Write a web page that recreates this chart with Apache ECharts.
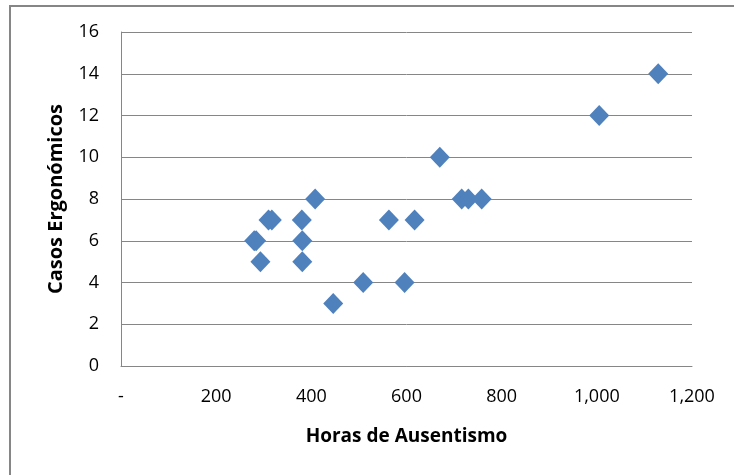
<!DOCTYPE html>
<html>
<head>
<meta charset="utf-8">
<script src="https://cdn.jsdelivr.net/npm/echarts@6/dist/echarts.min.js"></script>
<style>
  html, body { margin: 0; padding: 0; background: #fff; }
  #chart { width: 734px; height: 475px; }
</style>
</head>
<body>
<div id="chart"></div>
<script>
// horas de ausentismo (x) y casos ergonomicos (y)
var horas = [280, 284, 293, 310, 317, 380, 381, 381, 408, 446, 509, 563, 596, 617, 670, 716, 730, 758, 1005, 1129];
var casos = [6, 6, 5, 7, 7, 7, 6, 5, 8, 3, 4, 7, 4, 7, 10, 8, 8, 8, 12, 14];
var xTicks = [0, 200, 400, 600, 800, 1000, 1200];
var xTickLabels = ['-', '200', '400', '600', '800', '1,000', '1,200'];

var points = horas.map(function (h, i) { return [h, casos[i]]; });

var chart = echarts.init(document.getElementById('chart'));
chart.setOption({
  animation: false,
  textStyle: { fontFamily: 'Open Sans' },
  grid: { left: 121, right: 42, top: 32, bottom: 109 },
  graphic: [{
    type: 'rect',
    shape: { x: 10, y: 6, width: 800, height: 600 },
    style: { fill: 'none', stroke: '#868686', lineWidth: 2 },
    silent: true
  }],
  xAxis: {
    type: 'value',
    min: 0, max: 1200, interval: 200,
    name: 'Horas de Ausentismo',
    nameLocation: 'middle',
    nameGap: 61,
    nameTextStyle: { fontSize: 19, fontWeight: 'bold', color: '#000' },
    axisLine: { show: true, lineStyle: { color: '#868686', width: 1 } },
    axisTick: { show: false },
    splitLine: { show: false },
    axisLabel: {
      color: '#000', fontSize: 18, margin: 22,
      formatter: function (v) { return xTickLabels[xTicks.indexOf(v)]; }
    }
  },
  yAxis: {
    type: 'value',
    min: 0, max: 16, interval: 2,
    name: 'Casos Ergonómicos',
    nameLocation: 'middle',
    nameGap: 55,
    nameTextStyle: { fontSize: 20, fontWeight: 'bold', color: '#000' },
    axisLine: { show: true, lineStyle: { color: '#868686', width: 1 } },
    axisTick: { show: false },
    splitLine: { show: true, lineStyle: { color: '#868686', width: 1 } },
    axisLabel: { color: '#000', fontSize: 18, margin: 22 }
  },
  series: [{
    type: 'scatter',
    symbol: 'diamond',
    symbolSize: [20, 21],
    itemStyle: { color: '#4F81BD', opacity: 1 },
    data: points
  }]
});
</script>
</body>
</html>
